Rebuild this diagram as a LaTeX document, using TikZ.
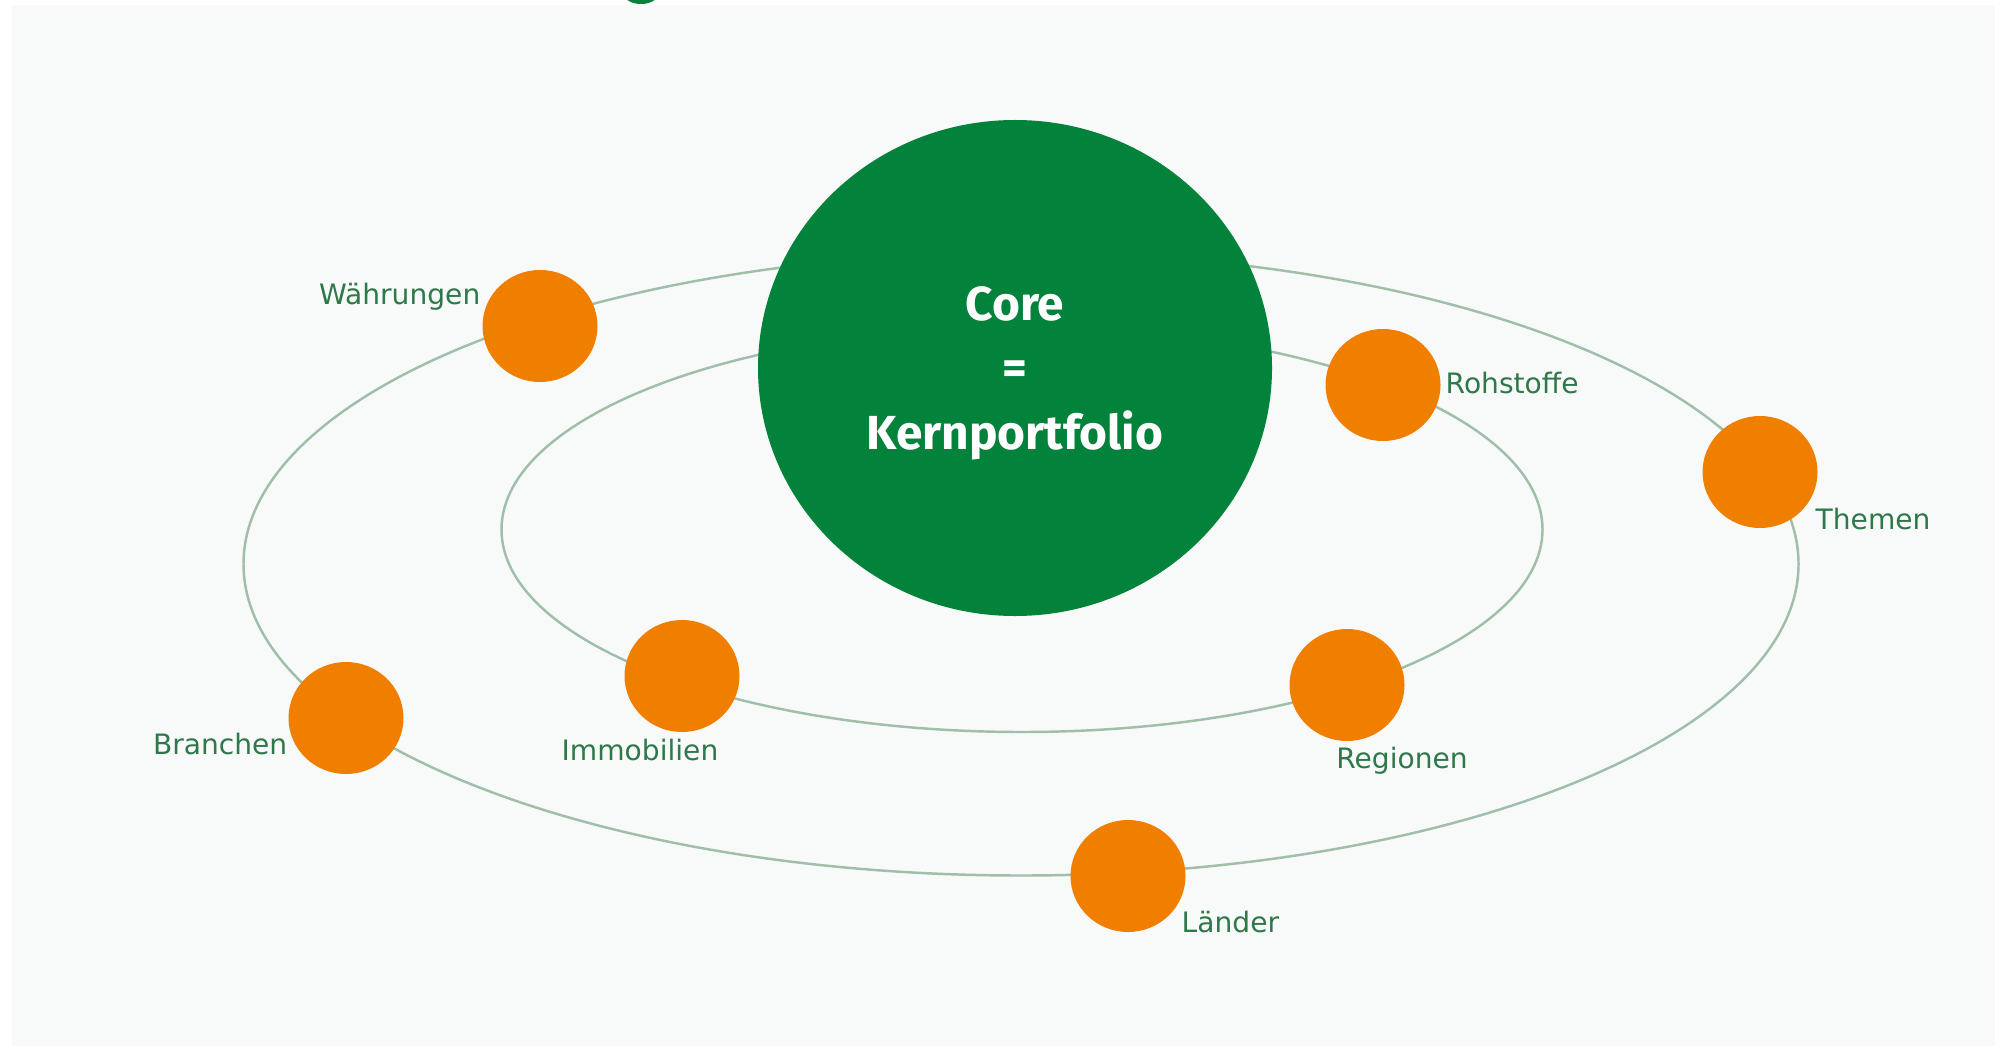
\documentclass[tikz,border=0pt]{standalone}
\usepackage{fontspec}
\setmainfont{DejaVu Sans}
\newfontfamily\corefont{Fira Sans}
\usepackage{tikz}
\usetikzlibrary{shapes.geometric}
\definecolor{coregreen}{HTML}{02823A}
\definecolor{assetorange}{HTML}{F07F00}
\definecolor{labelgreen}{HTML}{2E7849}
\definecolor{orbitgray}{HTML}{A0BFAB}
\definecolor{bggray}{HTML}{F8FAF9}
\tikzset{
  orbit/.style={draw=orbitgray, line width=0.7pt},
  asset/.style={ellipse, fill=assetorange, minimum width=1.15cm, minimum height=1.12cm, inner sep=0pt},
  assetlabel/.style={text=labelgreen, font=\fontsize{8}{9.6}\selectfont, inner sep=0pt},
}

\begin{document}
\begin{tikzpicture}
                \useasboundingbox (0, 0) rectangle (20.1, 10.5);
                \fill[white] (0, 0) rectangle (20.1, 10.5);
                \fill[bggray] (0.12, 0.04) rectangle (19.95, 10.45);
                \fill[coregreen] (6.41, 10.56) ellipse [x radius=0.17, y radius=0.1];

                \draw[orbit] (10.21, 4.86) ellipse [x radius=7.775, y radius=3.115];
                \draw[orbit] (10.22, 5.205) ellipse [x radius=5.205, y radius=2.025];

                \node[ellipse, fill=coregreen, minimum width=5.14cm, minimum height=4.96cm, inner sep=0pt, text=white, align=center, text depth=0pt, font=\corefont\bfseries\fontsize{13.6}{18.35}\selectfont] (core) at (10.15, 6.82) {Core\\=\\Kernportfolio};

                \node[asset] (waehrungen) at (5.40, 7.24) {};
                \node[asset] (rohstoffe)  at (13.83, 6.65) {};
                \node[asset] (themen)     at (17.60, 5.78) {};
                \node[asset] (branchen)   at (3.46, 3.32) {};
                \node[asset] (immobilien) at (6.82, 3.74) {};
                \node[asset] (regionen)   at (13.47, 3.65) {};
                \node[asset] (laender)    at (11.28, 1.74) {};

                \node[assetlabel, anchor=base east] (waehrungenlabel) at (4.81, 7.46) {Währungen};
                \node[assetlabel, anchor=base west] (rohstoffelabel)  at (14.45, 6.57) {Rohstoffe};
                \node[assetlabel, anchor=base west] (themenlabel)     at (18.15, 5.21) {Themen};
                \node[assetlabel, anchor=base east] (branchenlabel)   at (2.88, 2.96) {Branchen};
                \node[assetlabel, anchor=base]      (immobilienlabel) at (6.40, 2.90) {Immobilien};
                \node[assetlabel, anchor=base]      (regionenlabel)   at (14.02, 2.82) {Regionen};
                \node[assetlabel, anchor=base west] (laenderlabel)    at (11.81, 1.18) {Länder};
            \end{tikzpicture}
\end{document}
